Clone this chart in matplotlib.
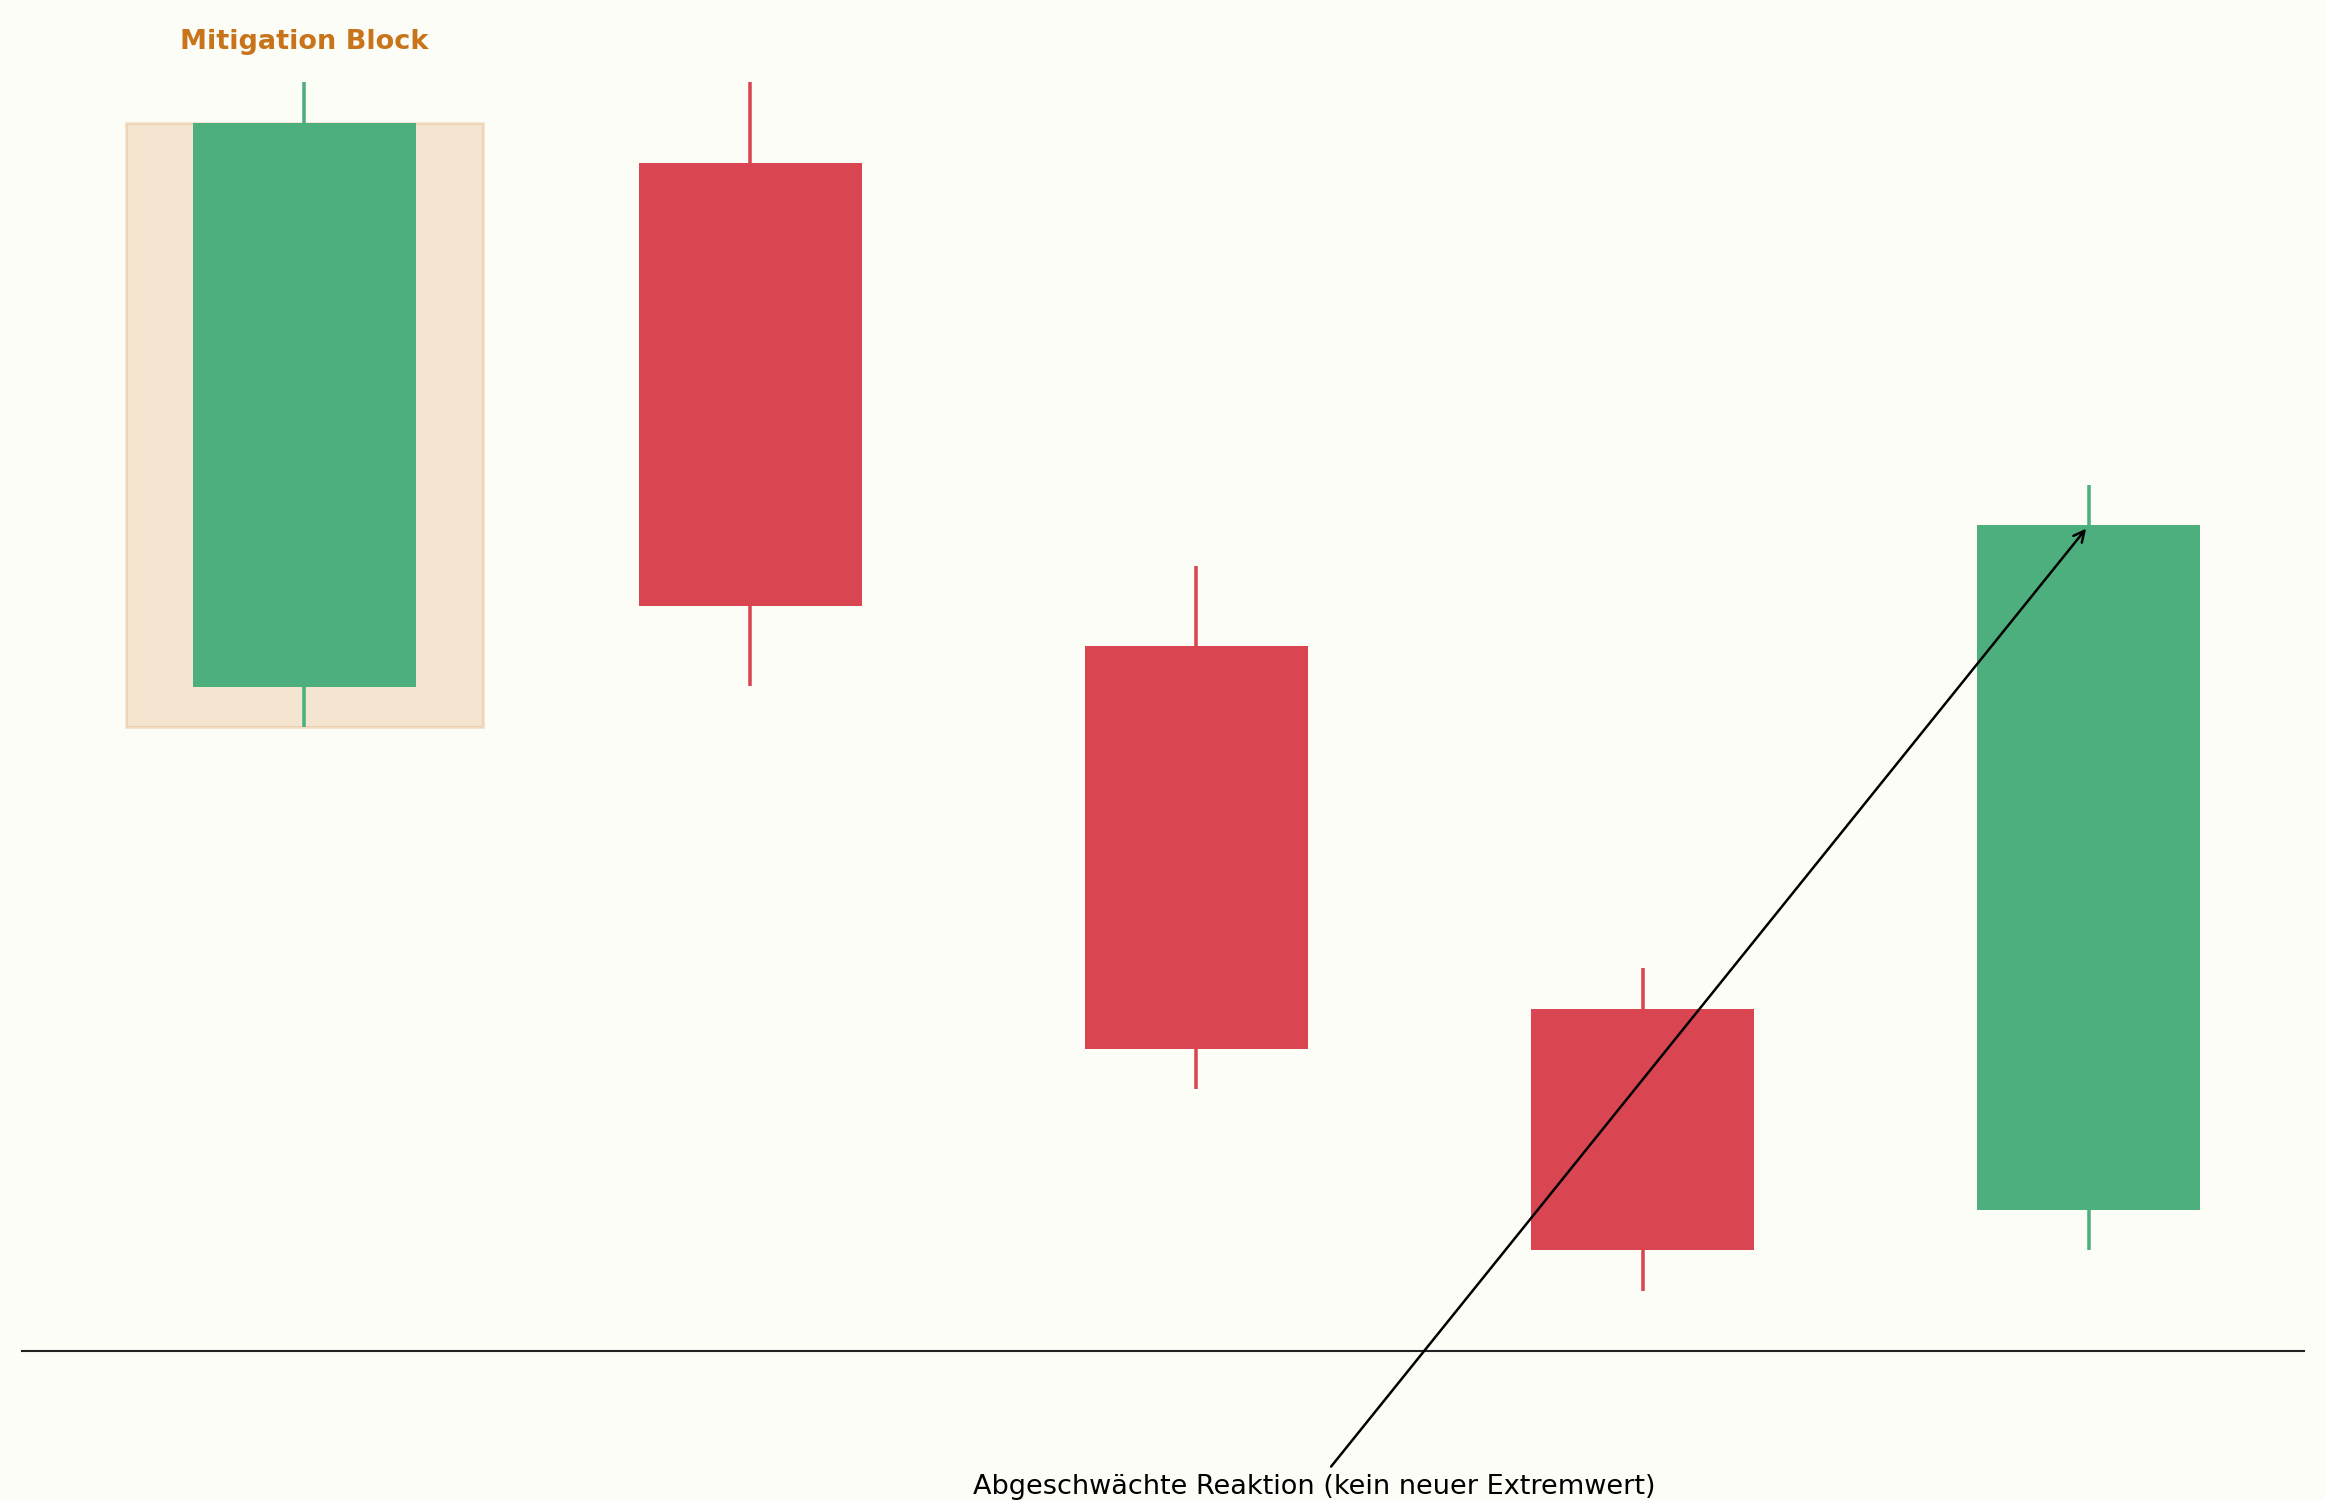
import matplotlib.pyplot as plt
from matplotlib.patches import Rectangle

# candle data (OHLC)
opens = [101, 114, 102, 93, 88]
highs = [116, 116, 104, 94, 106]
lows = [100, 101, 91, 86, 87]
closes = [115, 103, 92, 87, 105]

block_label = 'Mitigation Block'
note_label = 'Abgeschwächte Reaktion (kein neuer Extremwert)'

GREEN = '#4DAF7D'
RED = '#D94652'
BG = '#FDFDF8'

DPI = 150
fig = plt.figure(figsize=(2325/DPI, 1500/DPI), dpi=DPI, facecolor=BG)
ax = fig.add_axes([22/2325, 149/1500, (2304-22)/2325, (1478-149)/1500])
ax.set_facecolor(BG)

xs = list(range(len(opens)))

#mitigation block zone around the first candle
ax.add_patch(Rectangle((-0.4, lows[0]), 0.8, closes[0] - lows[0],
                       facecolor='#CC7A1F', alpha=0.18, edgecolor='#CC7A1F',
                       linewidth=1.5, zorder=1))

for x, o, h, l, c in zip(xs, opens, highs, lows, closes):
    col = GREEN if c >= o else RED
    ax.vlines(x, l, h, color=col, linewidth=1.7, zorder=2)
    ax.bar(x, abs(c - o), bottom=min(o, c), width=0.5, color=col, zorder=3)

ax.text(0, highs[0] + 1, block_label, ha='center', va='center',
        fontsize=13, fontweight='bold', color='#C8741A')

ax.annotate(note_label, xy=(4, closes[4]), xytext=(1.5, 80.8),
            ha='left', va='bottom', fontsize=13, color='black',
            arrowprops=dict(arrowstyle='->', color='black', lw=1.2),
            annotation_clip=False)

lo, hi = min(lows), max(highs)
pad = 0.05*(hi - lo)
ax.set_ylim(lo - pad, hi + pad)
ax.set_xlim(-0.6325, 4.4825)

for s in ['top', 'left', 'right']:
    ax.spines[s].set_visible(False)
ax.spines['bottom'].set_color('#222222')
ax.spines['bottom'].set_linewidth(1)
ax.set_xticks([])
ax.set_yticks([])

plt.savefig('out.png', dpi=DPI, facecolor=BG)
